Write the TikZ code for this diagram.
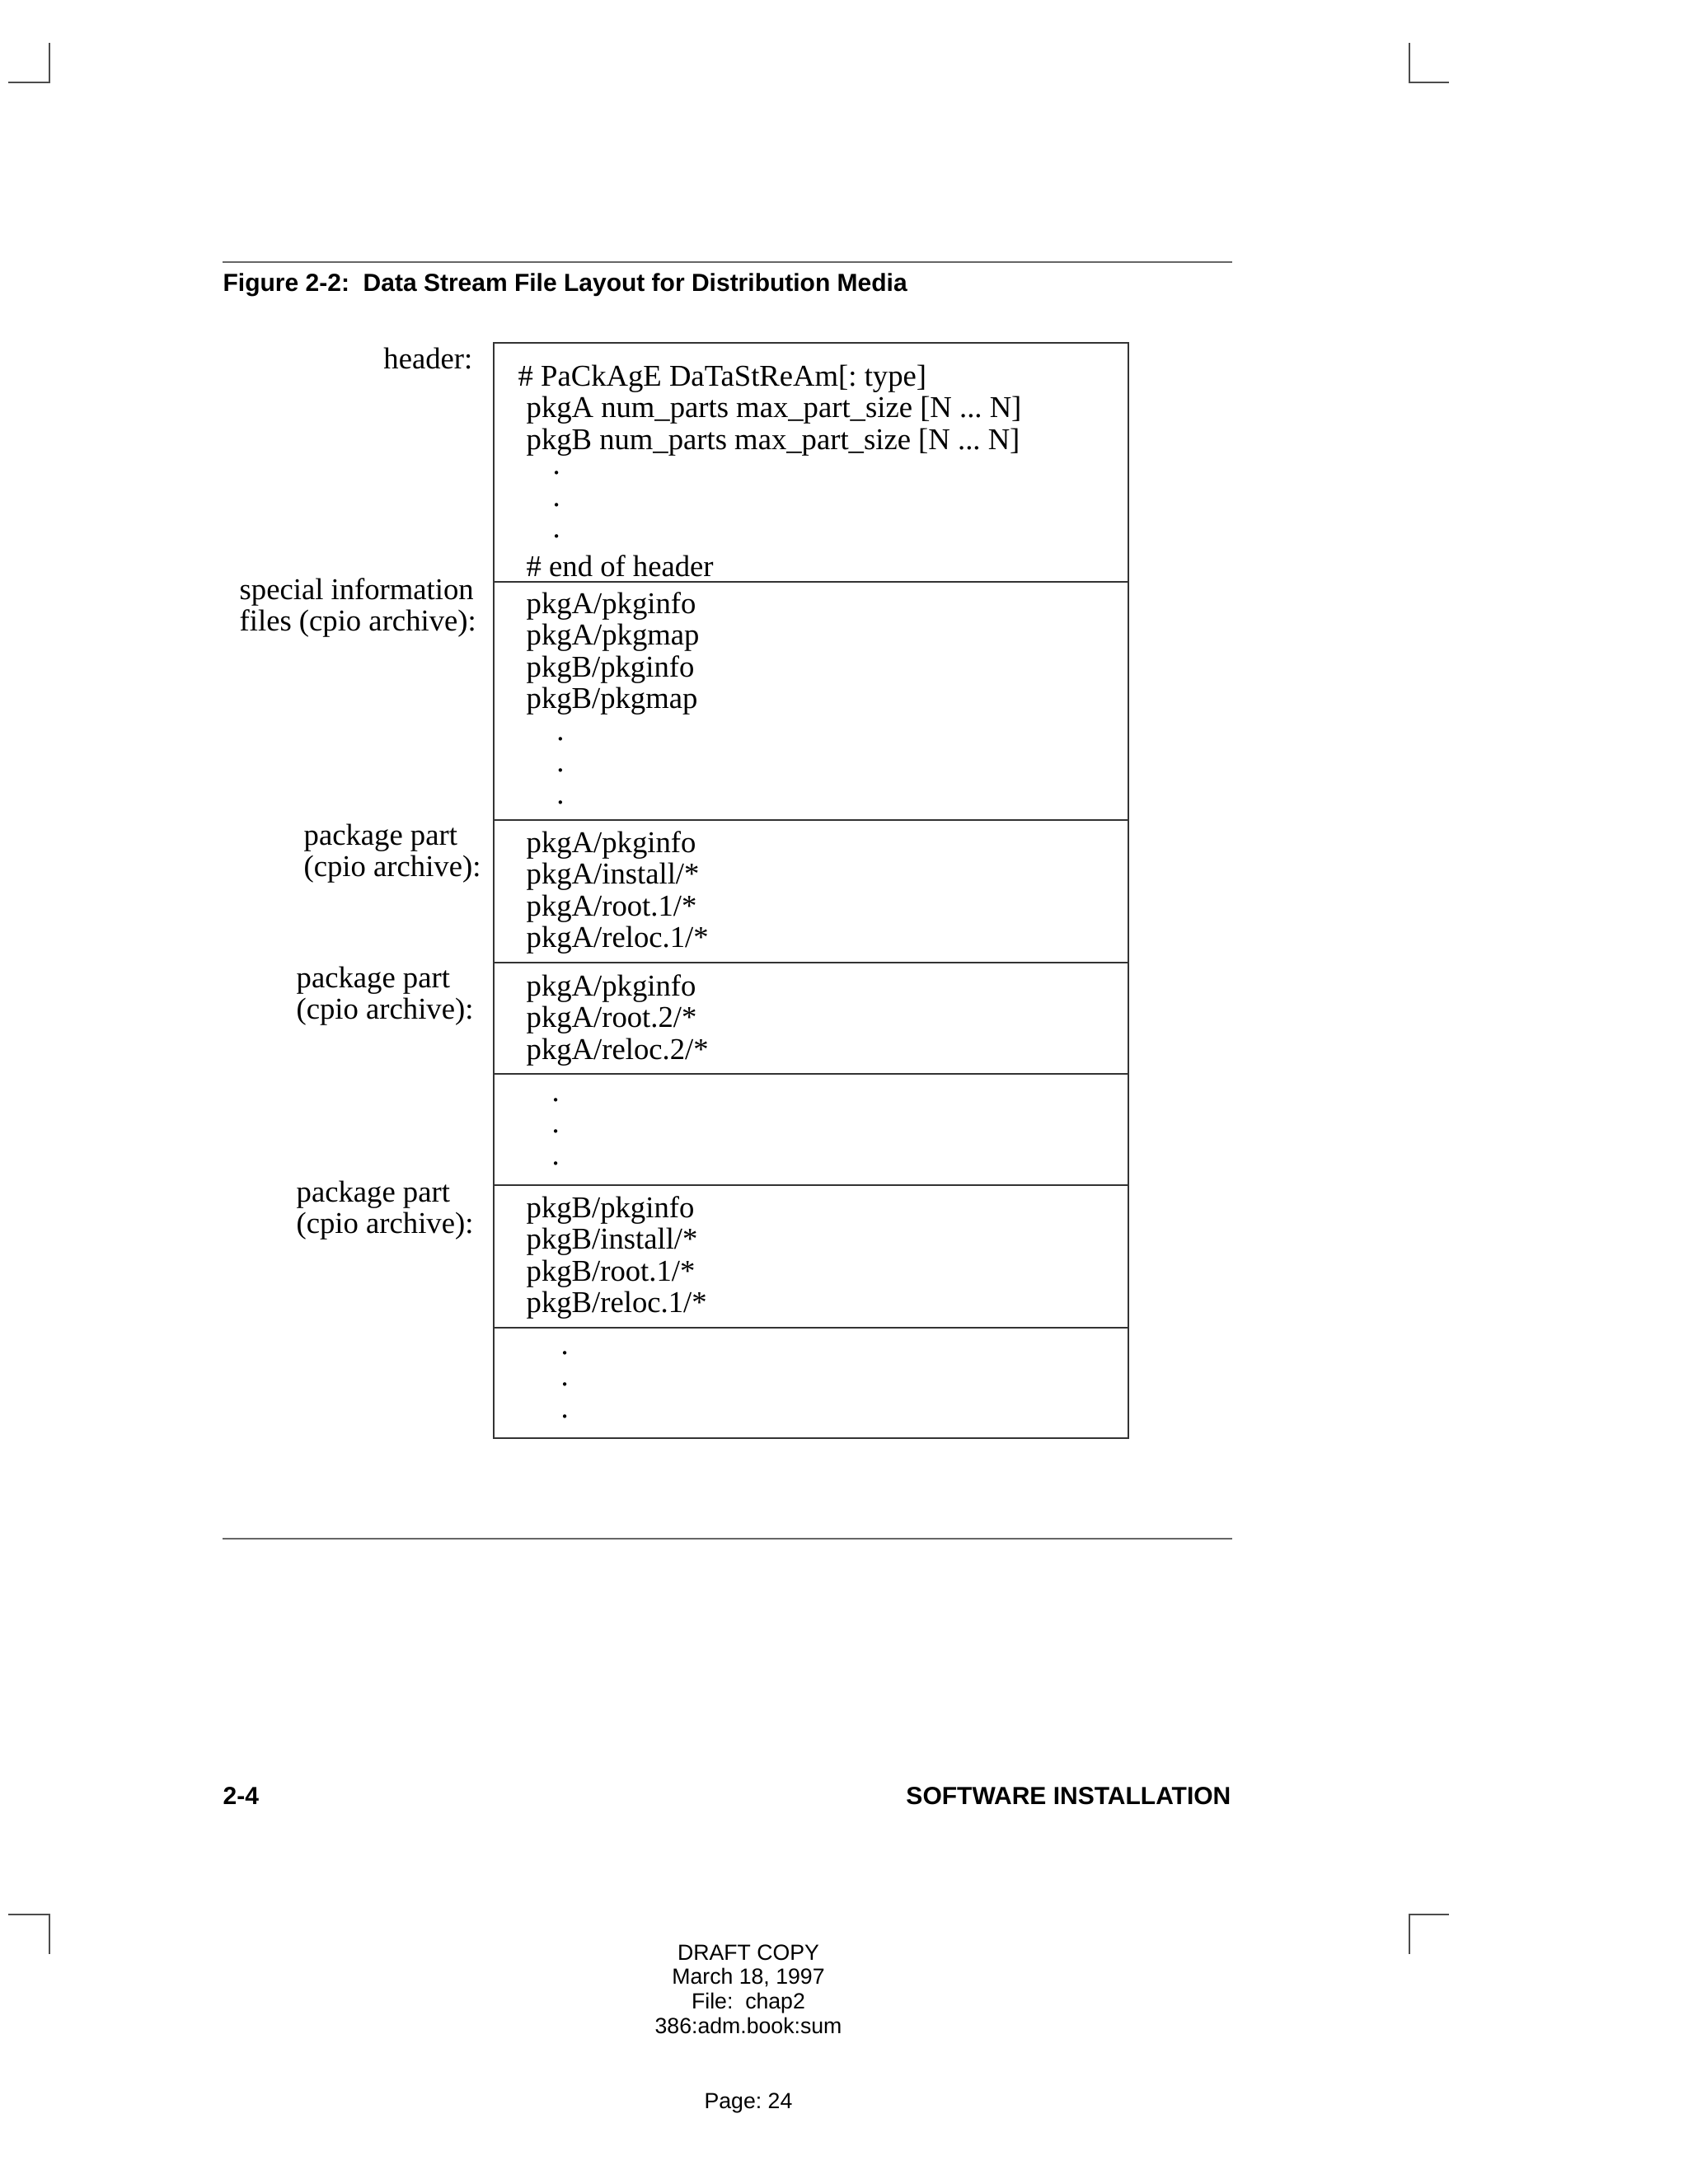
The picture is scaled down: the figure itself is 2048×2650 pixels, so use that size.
\documentclass[tikz,border=0pt]{standalone}
\usepackage{fontspec}
\setmainfont{Liberation Serif}
\newfontfamily\helvfont{Liberation Sans}
\frenchspacing

\begin{document}
\begin{tikzpicture}[x=0.3pt, y=-0.3pt,
  boxtext/.style={anchor=base west, inner sep=0pt, text width=9cm, align=flush left,
    font=\fontsize{11}{11.55}\selectfont},
  sidelabel/.style={boxtext, text width=4cm},
  headline/.style={inner sep=0pt, font=\helvfont\bfseries\fontsize{9}{11}\selectfont},
  draftnote/.style={inner sep=0pt, anchor=base, text width=4cm, align=flush center,
    font=\helvfont\fontsize{8}{8.9}\selectfont},
  rule/.style={black!60, line width=0.6pt},
  cropmark/.style={black!70, line width=0.6pt}]
  \useasboundingbox (0,0) rectangle (2048,2650);

  % Crop marks
  \draw[cropmark] (10,100) -- (60,100) -- (60,52);
  \draw[cropmark] (1758,100) -- (1710,100) -- (1710,52);
  \draw[cropmark] (10,2323) -- (60,2323) -- (60,2371);
  \draw[cropmark] (1758,2323) -- (1710,2323) -- (1710,2371);

  % Figure title and rules
  \draw[rule] (270,318) -- (1495,318);
  \node[headline, anchor=base west] (title) at (270,353)
    {Figure 2-2:\ \ Data Stream File Layout for Distribution Media};
  \draw[rule] (270,1867) -- (1495,1867);

  % Stream box
  \draw[black!80, line width=0.6pt] (599,416) rectangle (1369,1745);
  \draw[black!80, line width=0.6pt] (599,706) -- (1369,706);
  \draw[black!80, line width=0.6pt] (599,995) -- (1369,995);
  \draw[black!80, line width=0.6pt] (599,1168) -- (1369,1168);
  \draw[black!80, line width=0.6pt] (599,1303) -- (1369,1303);
  \draw[black!80, line width=0.6pt] (599,1438) -- (1369,1438);
  \draw[black!80, line width=0.6pt] (599,1611) -- (1369,1611);

  % Box contents
  \node[boxtext] (hdr) at (628,468)
    {\# PaCkAgE DaTaStReAm[: type]\\
     \hspace*{3pt}pkgA num\_parts max\_part\_size [N ... N]\\
     \hspace*{3pt}pkgB num\_parts max\_part\_size [N ... N]\\
     \hspace*{12.6pt}\raisebox{2.3pt}{.}\\
     \hspace*{12.6pt}\raisebox{2.3pt}{.}\\
     \hspace*{12.6pt}\raisebox{2.3pt}{.}\\
     \hspace*{3pt}\# end of header};
  \node[boxtext] (spec) at (638,744)
    {pkgA/pkginfo\\pkgA/pkgmap\\pkgB/pkginfo\\pkgB/pkgmap\\
     \hspace*{11pt}.\\\hspace*{11pt}.\\\hspace*{11pt}.};
  \node[boxtext] (partA1) at (638,1034)
    {pkgA/pkginfo\\pkgA/install/*\\pkgA/root.1/*\\pkgA/reloc.1/*};
  \node[boxtext] (partA2) at (638,1208)
    {pkgA/pkginfo\\pkgA/root.2/*\\pkgA/reloc.2/*};
  \node[boxtext] (gap) at (638,1336)
    {\hspace*{9.3pt}.\\\hspace*{9.3pt}.\\\hspace*{9.3pt}.};
  \node[boxtext] (partB1) at (638,1477)
    {pkgB/pkginfo\\pkgB/install/*\\pkgB/root.1/*\\pkgB/reloc.1/*};
  \node[boxtext] (tail) at (638,1643)
    {\hspace*{12.6pt}.\\\hspace*{12.6pt}.\\\hspace*{12.6pt}.};

  % Side labels
  \node[anchor=base east, inner sep=0pt, font=\fontsize{11}{11.55}\selectfont]
    (hdrlbl) at (574,447) {header:};
  \node[sidelabel] (speclbl) at (290,727) {special information\\files (cpio archive):};
  \node[sidelabel] (partA1lbl) at (368,1025) {package part\\(cpio archive):};
  \node[sidelabel] (partA2lbl) at (359,1198) {package part\\(cpio archive):};
  \node[sidelabel] (partB1lbl) at (359,1458) {package part\\(cpio archive):};

  % Page footer
  \node[headline, anchor=base west] (pagenum) at (270,2189) {2-4};
  \node[headline, anchor=base east] (chapname) at (1494,2189) {SOFTWARE INSTALLATION};
  \node[draftnote] (draft) at (908,2378)
    {DRAFT COPY\\March 18, 1997\\File:\ \ chap2\\386:adm.book:sum};
  \node[draftnote] (pageno) at (908,2558) {Page: 24};
\end{tikzpicture}
\end{document}
